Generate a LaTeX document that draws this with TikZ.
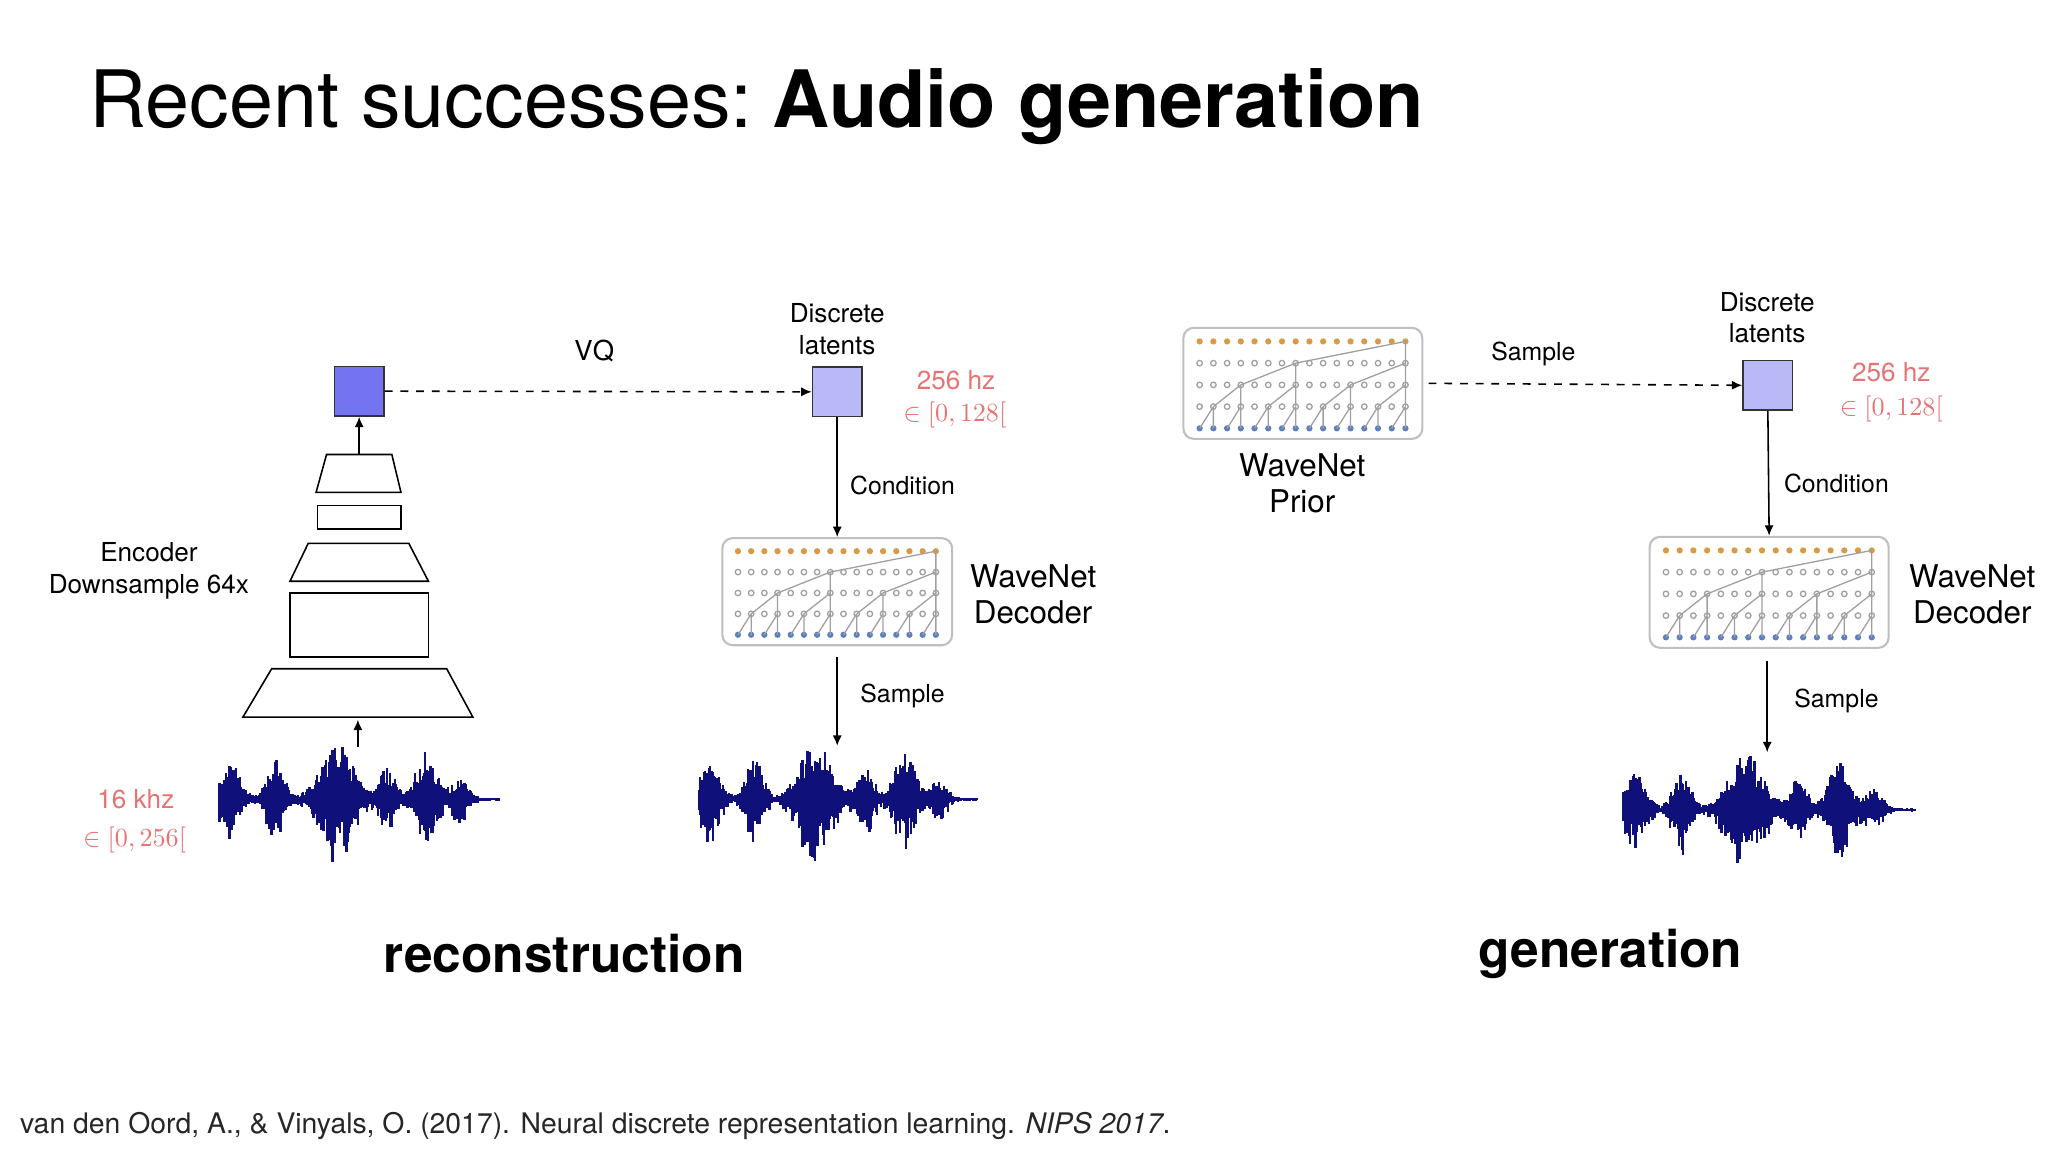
\documentclass[tikz,border=0pt]{standalone}
\usepackage{fontspec}
\setmainfont{TeX Gyre Heros}
\usetikzlibrary{arrows.meta}
\definecolor{wblue}{HTML}{10107A}
\definecolor{lred}{HTML}{E87272}
\definecolor{sqdark}{HTML}{7474F2}
\definecolor{sqlight}{HTML}{B9B9F8}
\definecolor{dorange}{HTML}{D99A45}
\definecolor{dblue}{HTML}{5C7FC0}
\definecolor{dgray}{HTML}{A0A0A0}
\newcommand\wnet[3]{% x0 y0 scaling
\begin{scope}[shift={(#1,#2)}]
\foreach \c in {0,...,15}{
 \pgfmathsetmacro\xx{#3*(12+\c*10.1)}
 \fill[dorange] (\xx,#3*10) circle (2.4);
 \fill[dblue] (\xx,#3*74) circle (2.4);
 \foreach \r in {26,42,58}{\draw[dgray,line width=0.5pt] (\xx,#3*\r) circle (2.1);}
}
\foreach \k in {0,...,7}{
 \pgfmathsetmacro\xa{#3*(12+(2*\k)*10.1)}\pgfmathsetmacro\xb{#3*(12+(2*\k+1)*10.1)}
 \draw[dgray,line width=0.5pt] (\xa,#3*74)--(\xb,#3*58) (\xb,#3*74)--(\xb,#3*58);}
\foreach \k in {0,...,3}{
 \pgfmathsetmacro\xa{#3*(12+(4*\k+1)*10.1)}\pgfmathsetmacro\xb{#3*(12+(4*\k+3)*10.1)}
 \draw[dgray,line width=0.5pt] (\xa,#3*58)--(\xb,#3*42) (\xb,#3*58)--(\xb,#3*42);}
\foreach \k in {0,...,1}{
 \pgfmathsetmacro\xa{#3*(12+(8*\k+3)*10.1)}\pgfmathsetmacro\xb{#3*(12+(8*\k+7)*10.1)}
 \draw[dgray,line width=0.5pt] (\xa,#3*42)--(\xb,#3*26) (\xb,#3*42)--(\xb,#3*26);}
\pgfmathsetmacro\xa{#3*(12+7*10.1)}\pgfmathsetmacro\xb{#3*(12+15*10.1)}
\draw[dgray,line width=0.5pt] (\xa,#3*26)--(\xb,#3*10) (\xb,#3*26)--(\xb,#3*10);
\end{scope}}
\newcommand\gs[3]{#1*exp(-min(((\t-#2)/#3)^2,30))}
\newcommand\wave[4]{% x0 cy W seed
\pgfmathsetseed{#4}
\draw[wblue,line width=0.8pt] (#1,#2)--(#1+#3,#2);
\foreach \i in {0,...,220}{
 \pgfmathsetmacro\t{\i/220}
 \pgfmathsetmacro\e{\gs{0.65}{0.04}{0.05}+\gs{0.75}{0.2}{0.04}+\gs{1.0}{0.42}{0.08}+\gs{0.55}{0.6}{0.04}+\gs{0.85}{0.74}{0.05}+\gs{0.35}{0.86}{0.04}+0.03}
 \pgfmathsetmacro\u{42*\e*(0.45+0.55*rnd)}
 \pgfmathsetmacro\d{50*\e*(0.35+0.65*rnd^2)}
 \draw[wblue,line width=0.9pt] (#1+\t*#3,#2-\u)--(#1+\t*#3,#2+\d);
}}
\begin{document}
\begin{tikzpicture}[x=0.5pt,y=-0.5pt,
 lbl/.style={font=\fontsize{9.5}{11}\selectfont,align=center},
 big/.style={font=\fontsize{12}{14}\selectfont,align=center},
 red/.style={text=lred,font=\fontsize{10}{12}\selectfont},
 arr/.style={-{Latex[length=4pt,width=3.5pt]},line width=0.6pt},
 sq/.style={draw=black!80,line width=0.6pt,minimum size=19pt,inner sep=0},
 wbox/.style={draw=black!25,line width=0.8pt,rounded corners=4pt,inner sep=0},
 enc/.style={draw,line width=0.6pt}]
\useasboundingbox (0,0) rectangle (1568,882);
\node[anchor=base west,font=\fontsize{30.3}{36}\selectfont,inner sep=0] (title) at (68,98) {Recent successes:\hspace{0.25em}\textbf{Audio generation}};
% encoder
\node[sq,fill=sqdark] (z1) at (275,299.5) {};
\draw[enc] (250,348)--(300,348)--(307,377)--(242,377)--cycle;
\coordinate (t1) at (275,348);
\node[enc,minimum width=32pt,minimum height=9pt,inner sep=0] (r1) at (275,396) {};
\draw[enc] (236,416)--(313,416)--(328,445)--(222,445)--cycle;
\node[enc,minimum width=53pt,minimum height=24.5pt,inner sep=0] (r2) at (275,478.5) {};
\draw[enc] (208,512)--(342,512)--(362,549)--(186,549)--cycle;
\coordinate (b1) at (274,551);\coordinate (b0) at (274,572);
\draw[arr] (t1)--(z1.south);
\draw[arr] (b0)--(b1);
\node[big,font=\fontsize{10}{12.5}\selectfont] (enclab) at (114,437) {Encoder\\Downsample 64x};
\wave{168}{612}{214}{11}
\node[red] (k16) at (104,612) {16 khz};
\node[red] (r16) at (103,643) {$\in[0,256[$};
% VQ
\node[sq,fill=sqlight] (z2) at (641,300) {};
\draw[arr,dashed] (z1.east)--(z2.west);
\node[lbl,font=\fontsize{10.5}{12}\selectfont] (vq) at (455,269) {VQ};
\node[lbl,font=\fontsize{10}{12}\selectfont] (dl1) at (641,252) {Discrete\\latents};
\node[red] (h1) at (732,291) {256 hz};
\node[red] (q1) at (731,318) {$\in[0,128[$};
\node[wbox,minimum width=88pt,minimum height=41pt] (dec1) at (641,453) {};
\wnet{553}{412}{1}
\draw[arr] (z2.south)--(dec1.north);
\node[lbl] (c1) at (691,372) {Condition};
\node[big] (dl) at (791,455) {WaveNet\\Decoder};
\coordinate (w1) at (641,571);
\draw[arr] (641,503)--(w1);
\node[lbl] (s1) at (691,533) {Sample};
\wave{535}{612}{213}{23}
\node[font=\bfseries\fontsize{19.7}{24}\selectfont] (rec) at (432,730) {reconstruction};
% generation
\node[wbox,minimum width=91.5pt,minimum height=42.5pt] (prior) at (997.5,293.5) {};
\wnet{906}{251}{1.04}
\node[big] (pl) at (997,370) {WaveNet\\Prior};
\node[sq,fill=sqlight] (z3) at (1353.5,295) {};
\draw[arr,dashed] (prior.east)+(4,0) -- (z3.west);
\node[lbl] (s2) at (1174,271) {Sample};
\node[lbl,font=\fontsize{10}{12}\selectfont] (dl2) at (1353,243) {Discrete\\latents};
\node[red] (h2) at (1448,285) {256 hz};
\node[red] (q2) at (1448,313) {$\in[0,128[$};
\node[wbox,minimum width=91.5pt,minimum height=42.5pt] (dec2) at (1354.5,453.5) {};
\wnet{1263}{411}{1.04}
\draw[arr] (z3.south)--(dec2.north);
\node[lbl] (c2) at (1406,370) {Condition};
\node[big] (dl3) at (1510,455) {WaveNet\\Decoder};
\coordinate (w2) at (1353,576);
\draw[arr] (1353,506)--(w2);
\node[lbl] (s3) at (1406,537) {Sample};
\wave{1243}{620}{223}{37}
\node[font=\bfseries\fontsize{19.7}{24}\selectfont] (gen) at (1233,730) {generation};
\node[anchor=base west,font=\fontsize{10.85}{12}\selectfont,text=black!85,inner sep=0] (ref) at (15,868) {van den Oord, A., \& Vinyals, O. (2017). Neural discrete representation learning. \textit{NIPS 2017}.};
\end{tikzpicture}
\end{document}
